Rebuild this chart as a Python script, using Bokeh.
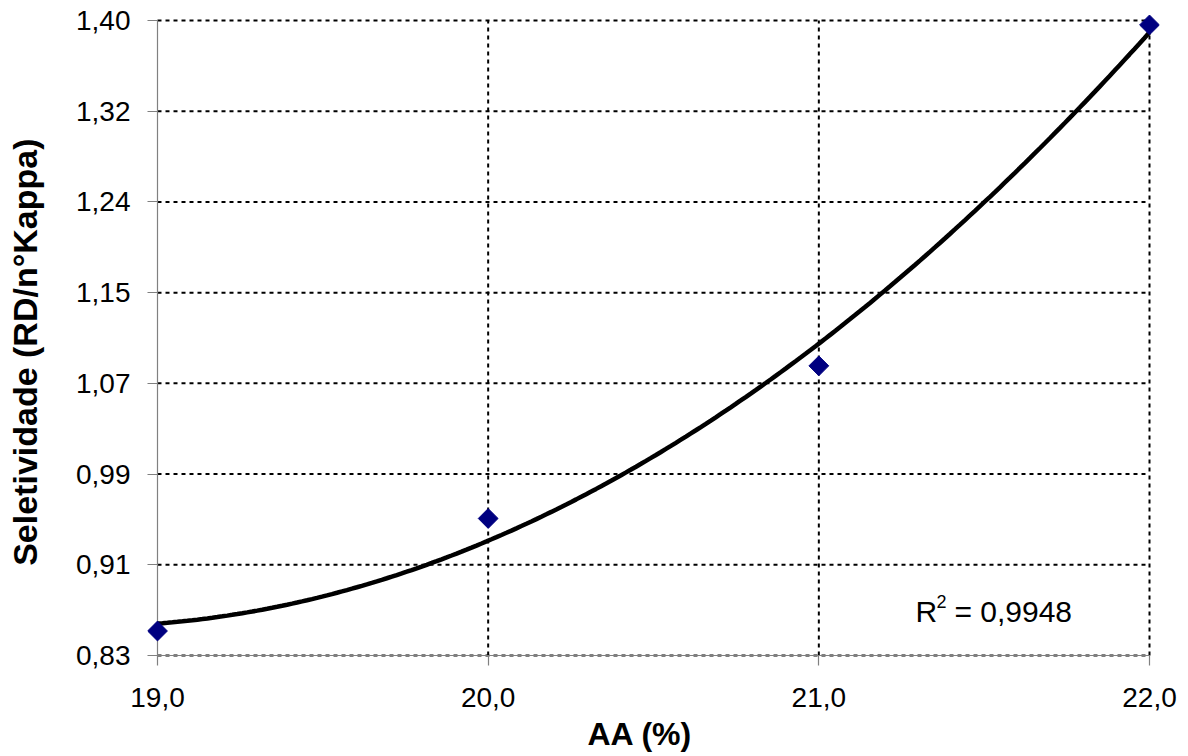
import numpy as np
from bokeh.plotting import figure
from bokeh.models import FixedTicker, Label, Title
from bokeh.embed import file_html
from bokeh.resources import INLINE

# ---- data ----
aa_pct = [19.0, 20.0, 21.0, 22.0]
seletividade = [0.852, 0.953, 1.090, 1.396]

x_ticks = [19.0, 20.0, 21.0, 22.0]
x_tick_labels = ["19,0", "20,0", "21,0", "22,0"]
y_ticks = [0.83, 0.911429, 0.992857, 1.074286, 1.155714, 1.237143, 1.318571, 1.40]
y_tick_labels = ["0,83", "0,91", "0,99", "1,07", "1,15", "1,24", "1,32", "1,40"]
x_title = "AA (%)"
y_title = "Seletividade (RD/n°Kappa)"
r2_value = "= 0,9948"

# quadratic trend line fitted to the data (as in the original chart)
coef = np.polyfit(aa_pct, seletividade, 2)
xs = np.linspace(min(aa_pct), max(aa_pct), 200)
ys = np.polyval(coef, xs)

FONT = "Liberation Sans"
xmin, xmax = x_ticks[0], x_ticks[-1]
ymin, ymax = y_ticks[0], y_ticks[-1]
padx = (xmax - xmin) * 10 / 992
pady = (ymax - ymin) * 10 / 636

p = figure(width=1188, height=756, output_backend="svg", toolbar_location=None,
           x_range=(xmin - padx, xmax + padx), y_range=(ymin - pady, ymax + pady),
           min_border_left=147, min_border_right=29, min_border_top=10, min_border_bottom=90)
p.outline_line_color = None
p.background_fill_color = "white"
p.border_fill_color = "white"
p.xgrid.visible = False
p.ygrid.visible = False

# dotted grid lines, bounded to the data area
grid_kw = dict(line_color="black", line_width=2, line_dash="4 4")
p.segment(x0=[xmin] * len(y_ticks), x1=[xmax] * len(y_ticks), y0=y_ticks, y1=y_ticks, **grid_kw)
p.segment(x0=x_ticks[1:], x1=x_ticks[1:], y0=[ymin] * 3, y1=[ymax] * 3, **grid_kw)

# axis lines
p.segment(x0=[xmin], x1=[xmin], y0=[ymin], y1=[ymax], line_color="#808080", line_width=1.2)
p.segment(x0=[xmin], x1=[xmax], y0=[ymin], y1=[ymin], line_color="#808080", line_width=1.2)

# trend line and data points
p.line(xs, ys, line_color="black", line_width=4.5)
p.scatter(aa_pct, seletividade, marker="square", angle=np.pi / 4, size=14,
          fill_color="#000080", line_color="#000080")

# R² annotation
r2x, r2y = 21.292, 0.8694
p.add_layout(Label(x=r2x, y=r2y, text="R", text_font=FONT, text_font_size="30px",
                   text_color="black", text_baseline="middle"))
p.add_layout(Label(x=r2x, y=r2y, x_offset=21, y_offset=10, text="2", text_font=FONT,
                   text_font_size="18px", text_color="black", text_baseline="middle"))
p.add_layout(Label(x=r2x, y=r2y, x_offset=39, text=r2_value, text_font=FONT,
                   text_font_size="30px", text_color="black", text_baseline="middle"))

for ax in (p.xaxis[0], p.yaxis[0]):
    ax.axis_line_color = None
    ax.major_tick_in = 10
    ax.major_tick_out = 0
    ax.major_tick_line_color = "#808080"
    ax.major_tick_line_width = 1.2
    ax.minor_tick_line_color = None
    ax.major_label_text_font = FONT
    ax.major_label_text_font_size = "28px"
    ax.major_label_text_color = "black"

p.xaxis.ticker = FixedTicker(ticks=x_ticks)
p.xaxis.major_label_overrides = {t: l for t, l in zip(x_ticks, x_tick_labels)}
p.xaxis.major_label_standoff = 22

p.yaxis.ticker = FixedTicker(ticks=y_ticks)
p.yaxis.major_label_overrides = {t: l for t, l in zip(y_ticks, y_tick_labels)}
p.yaxis.major_label_standoff = 17
# trailing no-break spaces shift the centred title slightly downwards, as in the original
p.yaxis.axis_label = y_title + "\u00a0\u00a0\u00a0"
p.yaxis.axis_label_text_font = FONT
p.yaxis.axis_label_text_font_size = "34px"
p.yaxis.axis_label_text_font_style = "bold"
p.yaxis.axis_label_text_color = "black"
p.yaxis.axis_label_standoff = 29

# x axis title as a side-panel title (allows the pixel offset of the original)
p.add_layout(Title(text=x_title, align="left", offset=440, standoff=9,
                   text_font=FONT, text_font_size="32px", text_font_style="bold",
                   text_color="black"), "below")

open("out.html", "w").write(file_html(p, INLINE))
